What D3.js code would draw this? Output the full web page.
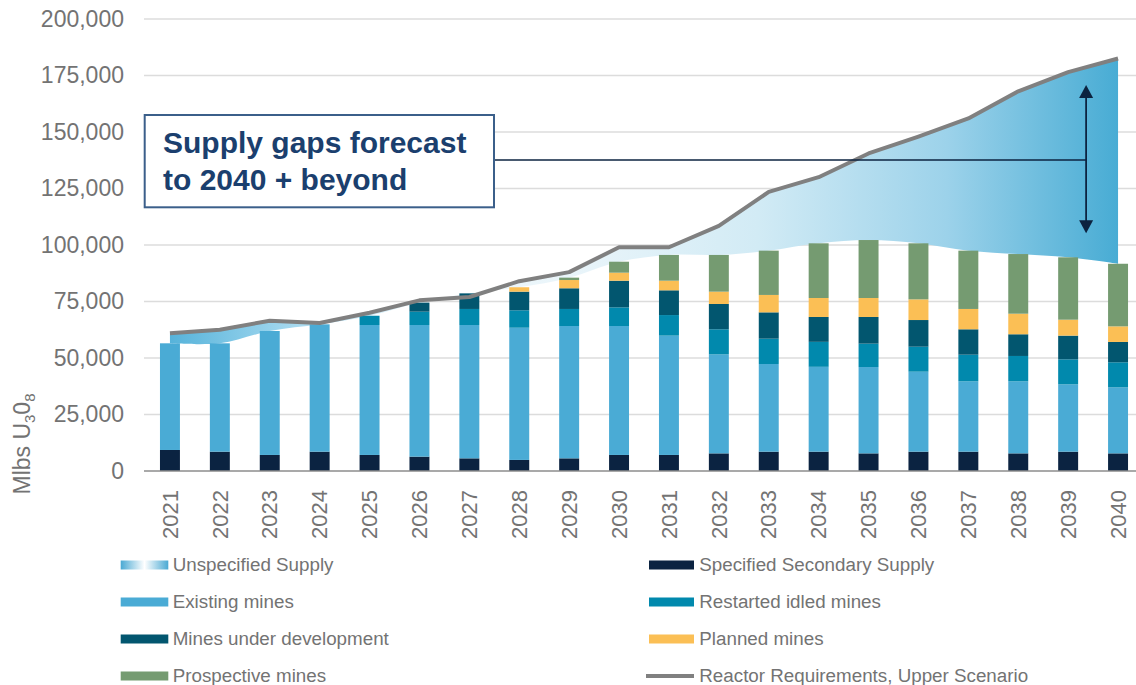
<!DOCTYPE html>
<html><head><meta charset="utf-8">
<script src="https://cdn.jsdelivr.net/npm/d3@7"></script>
<style>
body{margin:0;background:#fff;}
svg{display:block;font-family:"Liberation Sans",Arial,Helvetica,sans-serif;}
</style>
</head><body>
<svg id="chart" width="1136" height="685"></svg>
<script>
// ---------- DATA ----------
const years = ["2021","2022","2023","2024","2025","2026","2027","2028","2029","2030",
               "2031","2032","2033","2034","2035","2036","2037","2038","2039","2040"];
const secondarySupply = [9300,8550,7100,8550,7100,6350,5600,4900,5600,7100,7100,7800,8550,8550,7800,8550,8550,7800,8550,7800];
const existingMines   = [47200,47950,54850,56350,57500,58250,59000,58500,58560,57060,52800,43800,38800,37550,38200,35400,31150,31900,29800,29200];
const restartedMines  = [0,0,0,0,4100,5900,7100,7700,7540,8240,9100,11100,11200,11050,10350,11050,11770,11200,11050,11100];
const devMines        = [0,0,0,0,0,4000,6900,8250,9150,11800,10950,11200,11650,11000,11800,11800,11230,9600,10500,9000];
const plannedMines    = [0,0,0,0,0,0,0,1950,3650,3550,4250,5450,7700,8400,8400,9150,9000,9100,7050,6900];
const prospectiveMines= [0,0,0,0,0,0,0,0,1050,4850,11400,16250,19600,24200,25650,24800,25800,26400,27600,27700];
const reactorUpper    = [61000,62500,66500,65500,70000,75500,77000,84000,88000,99000,99000,108500,123500,130000,140500,148000,156000,168000,176500,182500];
const yTicks = [0,25000,50000,75000,100000,125000,150000,175000,200000];

const seriesKeys  = ["Specified Secondary Supply","Existing mines","Restarted idled mines","Mines under development","Planned mines","Prospective mines"];
const seriesVals  = [secondarySupply, existingMines, restartedMines, devMines, plannedMines, prospectiveMines];
const seriesColors= ["#0b2341","#4aabd5","#0189ad","#02566f","#fbbf55","#759b71"];

const legendItems = [
  {name:"Unspecified Supply", kind:"grad", col:0, row:0},
  {name:"Existing mines", kind:"bar", color:"#4aabd5", col:0, row:1},
  {name:"Mines under development", kind:"bar", color:"#02566f", col:0, row:2},
  {name:"Prospective mines", kind:"bar", color:"#759b71", col:0, row:3},
  {name:"Specified Secondary Supply", kind:"bar", color:"#0b2341", col:1, row:0},
  {name:"Restarted idled mines", kind:"bar", color:"#0189ad", col:1, row:1},
  {name:"Planned mines", kind:"bar", color:"#fbbf55", col:1, row:2},
  {name:"Reactor Requirements, Upper Scenario", kind:"line", color:"#808080", col:1, row:3}
];

// ---------- SETUP ----------
const svg = d3.select("#chart");
const x = d3.scaleBand().domain(years).range([145,1143]).paddingInner(0.6).paddingOuter(0.3);
const y = d3.scaleLinear().domain([0,200000]).range([471,19]);
const cx = d => x(d) + x.bandwidth()/2;
const textGrey = "#737373";

const table = years.map((yr,i) => {
  const o = {year: yr};
  seriesKeys.forEach((k,j) => o[k] = seriesVals[j][i]);
  return o;
});
const stacked = d3.stack().keys(seriesKeys)(table);
const totals = table.map(r => d3.sum(seriesKeys, k => r[k]));

const defs = svg.append("defs");
const g1 = defs.append("linearGradient").attr("id","gapGrad")
  .attr("gradientUnits","userSpaceOnUse")
  .attr("x1", cx(years[0])).attr("x2", cx(years[years.length-1])).attr("y1",0).attr("y2",0);
[[0,"#56b3da"],[0.12,"#9fd6ee"],[0.27,"#eef8fc"],[0.42,"#eaf5fa"],[0.62,"#d2ebf5"],[0.82,"#9cd2ea"],[1,"#48acd4"]]
  .forEach(s => g1.append("stop").attr("offset",s[0]).attr("stop-color",s[1]));
const g2 = defs.append("linearGradient").attr("id","legGrad").attr("x1",0).attr("x2",1).attr("y1",0).attr("y2",0);
[[0,"#4aa9d3"],[0.5,"#ffffff"],[1,"#4aa9d3"]]
  .forEach(s => g2.append("stop").attr("offset",s[0]).attr("stop-color",s[1]));

// ---------- GRID ----------
svg.append("g").selectAll("line").data(yTicks.filter(d => d > 0)).join("line")
  .attr("x1",144).attr("x2",1136).attr("y1",d=>y(d)).attr("y2",d=>y(d))
  .attr("stroke","#dcdcdc").attr("stroke-width",1.5);

// ---------- Y AXIS ----------
const yAxis = svg.append("g").attr("transform","translate(144,0)")
  .call(d3.axisLeft(y).tickValues(yTicks).tickFormat(d3.format(",")).tickSize(0).tickPadding(20));
yAxis.select(".domain").remove();
yAxis.selectAll("text").attr("font-size",23).attr("fill",textGrey)
  .attr("font-family",'"Liberation Sans",Arial,sans-serif');

// Y title
const yt = svg.append("text").attr("transform","translate(29.5,444) rotate(-90)")
  .attr("text-anchor","middle").attr("font-size",23).attr("fill",textGrey);
yt.append("tspan").text("Mlbs U");
yt.append("tspan").text("3").attr("font-size",15).attr("dy",5);
yt.append("tspan").text("0").attr("font-size",23).attr("dy",-5);
yt.append("tspan").text("8").attr("font-size",15).attr("dy",5);

// ---------- UNSPECIFIED SUPPLY AREA ----------
const pts = years.map((yr,i) => ({x: cx(yr), top: y(reactorUpper[i]), bot: y(totals[i])}));
const topPath = d3.line().x(d=>d.x).y(d=>d.top)(pts);
const botPath = d3.line().x(d=>d.x).y(d=>d.bot).curve(d3.curveCatmullRom.alpha(0.5))(pts.slice().reverse());
svg.append("path").attr("d", topPath + "L" + botPath.slice(1) + "Z").attr("fill","url(#gapGrad)");

// ---------- BARS ----------
svg.append("g").selectAll("g").data(stacked).join("g")
  .attr("fill",(d,i)=>seriesColors[i])
  .selectAll("rect").data(d=>d).join("rect")
  .attr("x",d=>x(d.data.year)).attr("width",x.bandwidth())
  .attr("y",d=>y(d[1])).attr("height",d=>Math.max(0,y(d[0])-y(d[1])));

// ---------- X AXIS ----------
const xAxis = svg.append("g").attr("transform","translate(0,471)")
  .call(d3.axisBottom(x).tickSize(0));
xAxis.select(".domain").remove();
svg.append("line").attr("x1",144).attr("x2",1136).attr("y1",471).attr("y2",471)
  .attr("stroke","#8c8c8c").attr("stroke-width",1.6);
xAxis.selectAll("text").attr("transform","rotate(-90)").attr("text-anchor","end")
  .attr("x",-19).attr("y",0).attr("dy","0.35em")
  .attr("font-size",22).attr("fill",textGrey)
  .attr("font-family",'"Liberation Sans",Arial,sans-serif');

// ---------- REACTOR LINE ----------
svg.append("path").datum(reactorUpper)
  .attr("d", d3.line().x((d,i)=>cx(years[i])).y(d=>y(d)))
  .attr("fill","none").attr("stroke","#808080").attr("stroke-width",4)
  .attr("stroke-linejoin","round");

// ---------- ANNOTATION ----------
const navy = "#0c2340";
const arrowX = cx("2039") + x.step()*0.36;
svg.append("line").attr("x1",494).attr("x2",arrowX).attr("y1",y(137600)).attr("y2",y(137600))
  .attr("stroke",navy).attr("stroke-width",1.5);
const aTop = y(170800), aBot = y(105200);
svg.append("line").attr("x1",arrowX).attr("x2",arrowX).attr("y1",aTop+10).attr("y2",aBot-10)
  .attr("stroke",navy).attr("stroke-width",1.8);
svg.append("path").attr("d",`M${arrowX},${aTop}L${arrowX-7},${aTop+13}L${arrowX+7},${aTop+13}Z`).attr("fill",navy);
svg.append("path").attr("d",`M${arrowX},${aBot}L${arrowX-7},${aBot-13}L${arrowX+7},${aBot-13}Z`).attr("fill",navy);

svg.append("rect").attr("x",144.7).attr("y",115).attr("width",349.3).attr("height",92.3)
  .attr("fill","#fff").attr("stroke","#3b5f8a").attr("stroke-width",2);
const box = svg.append("text").attr("font-size",30).attr("font-weight","bold").attr("fill","#1b3f6e");
box.append("tspan").attr("x",163).attr("y",153).text("Supply gaps forecast");
box.append("tspan").attr("x",163).attr("y",190).text("to 2040 + beyond");

// ---------- LEGEND ----------
const colX = [{sx:120.7, sw:47.6, tx:172.7},{sx:649, sw:45, tx:699.3}];
const rowY = [565, 602, 639, 676];
const leg = svg.append("g").selectAll("g").data(legendItems).join("g")
  .attr("transform", d => `translate(0,${rowY[d.row]})`);
leg.each(function(d){
  const g = d3.select(this), c = colX[d.col];
  if (d.kind === "line") {
    g.append("line").attr("x1",c.sx-3).attr("x2",c.sx+c.sw).attr("y1",0).attr("y2",0)
      .attr("stroke",d.color).attr("stroke-width",4);
  } else {
    g.append("rect").attr("x",c.sx).attr("y",-4.5).attr("width",c.sw).attr("height",9)
      .attr("fill", d.kind === "grad" ? "url(#legGrad)" : d.color);
  }
  g.append("text").attr("x",c.tx).attr("y",6.3).attr("font-size",18.8).attr("fill",textGrey).text(d.name);
});
</script>
</body></html>
